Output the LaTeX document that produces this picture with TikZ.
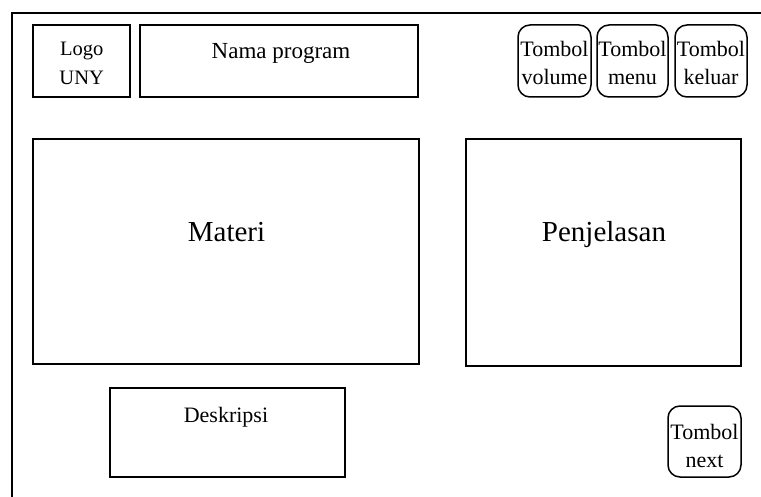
\documentclass[tikz,border=0pt]{standalone}
\usepackage{fontspec}
\setmainfont{Liberation Serif}
\usetikzlibrary{fit}
\tikzset{
  frameline/.style={line width=1.8pt},
  box/.style={draw, line width=1.5pt, inner sep=0pt},
  btn/.style={box, rounded corners=12pt},
  lbl/.style={anchor=base, inner sep=0pt, font=\fontsize{20.5}{28}\selectfont},
  btnlbl/.style={anchor=base, inner sep=0pt, font=\fontsize{22}{28}\selectfont},
  biglbl/.style={anchor=base, inner sep=0pt, font=\fontsize{29}{34}\selectfont}
}
\begin{document}
\begin{tikzpicture}[x=1pt, y=-1pt]
\useasboundingbox (0,0) rectangle (761,497);
% outer frame
\coordinate (tl) at (12,13);
\coordinate (tr) at (761,13);
\coordinate (bl) at (12,497);
\draw[frameline] (tr) -- (tl) -- (bl);
% boxes
\node[box, fit={(33,25) (130,97)}] (logo) {};
\node[box, fit={(140,25) (418,97)}] (nama) {};
\node[btn, fit={(518,25) (591,97)}] (vol) {};
\node[btn, fit={(597,25) (668,97)}] (menu) {};
\node[btn, fit={(675,25) (747,97)}] (keluar) {};
\node[box, fit={(33,139) (419,364)}] (materi) {};
\node[box, fit={(466,139) (741,366)}] (penj) {};
\node[box, fit={(110,388) (345,477)}] (desk) {};
\node[btn, fit={(668,406) (741,477)}] (next) {};
% labels
\node[lbl] (logo1) at (81.7,56) {Logo};
\node[lbl] (logo2) at (81.7,85) {UNY};
\node[lbl, font=\fontsize{23}{28}\selectfont] (namat) at (281,59) {Nama program};
\node[btnlbl] (vol1) at (554.5,57) {Tombol};
\node[btnlbl] (vol2) at (554.5,85) {volume};
\node[btnlbl] (menu1) at (632.5,57) {Tombol};
\node[btnlbl] (menu2) at (632.5,85) {menu};
\node[btnlbl] (kel1) at (711,57) {Tombol};
\node[btnlbl] (kel2) at (711,85) {keluar};
\node[biglbl] (matt) at (226.5,242) {Materi};
\node[biglbl] (penjt) at (604,242) {Penjelasan};
\node[lbl, font=\fontsize{22}{28}\selectfont] (deskt) at (226,422) {Deskripsi};
\node[btnlbl] (next1) at (704.5,439) {Tombol};
\node[btnlbl] (next2) at (704.5,467) {next};
\end{tikzpicture}
\end{document}
